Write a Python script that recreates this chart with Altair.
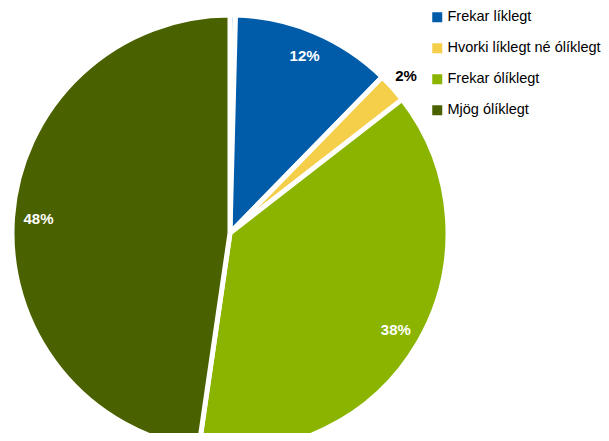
import altair as alt
import pandas as pd

categories = ["Mjög líklegt", "Frekar líklegt", "Hvorki líklegt né ólíklegt", "Frekar ólíklegt", "Mjög ólíklegt"]
values = [0.4, 11.9, 2.2, 37.8, 47.7]
labels = ["", "12%", "2%", "38%", "48%"]
colors = ["#0A5CA6", "#005CA9", "#F5CE4A", "#8AB400", "#4A6100"]
legend_items = ["Frekar líklegt", "Hvorki líklegt né ólíklegt", "Frekar ólíklegt", "Mjög ólíklegt"]

df = pd.DataFrame({
    "cat": categories,
    "value": values,
    "label": labels,
    "idx": list(range(len(categories))),
})

CX, CY = 222, 225

base = alt.Chart(df).encode(
    theta=alt.Theta("value:Q", stack=True),
    order=alt.Order("idx:Q"),
)

pie = base.mark_arc(radius=218, x=CX, y=CY, stroke="white", strokeWidth=5).encode(
    color=alt.Color(
        "cat:N",
        scale=alt.Scale(domain=categories, range=colors),
        legend=alt.Legend(
            values=legend_items,
            title=None,
            orient="none",
            legendX=422,
            legendY=2,
            symbolType="square",
            symbolSize=100,
            symbolStrokeWidth=0,
            labelFontSize=14.5,
            labelFont="Liberation Sans",
            labelColor="#000000",
            rowPadding=16,
            labelOffset=3,
            labelLimit=300,
        ),
    )
)

inner = base.transform_calculate(
    lab="datum.value >= 5 ? datum.label : ''"
).mark_text(
    radius=192, x=CX, y=CY, fontSize=15, fontWeight="bold",
    font="Liberation Sans", color="white"
).encode(text="lab:N")

outer = base.transform_calculate(
    lab="datum.value < 5 ? datum.label : ''"
).mark_text(
    radius=236, x=CX, y=CY, fontSize=15, fontWeight="bold",
    font="Liberation Sans", color="black"
).encode(text="lab:N")

chart = alt.layer(pie, inner, outer).properties(
    width=593, height=425, padding=0, autosize=alt.AutoSizeParams(type="none")
).configure_view(stroke=None)

chart.save("out.html", embed_options={"renderer": "svg", "actions": False})
